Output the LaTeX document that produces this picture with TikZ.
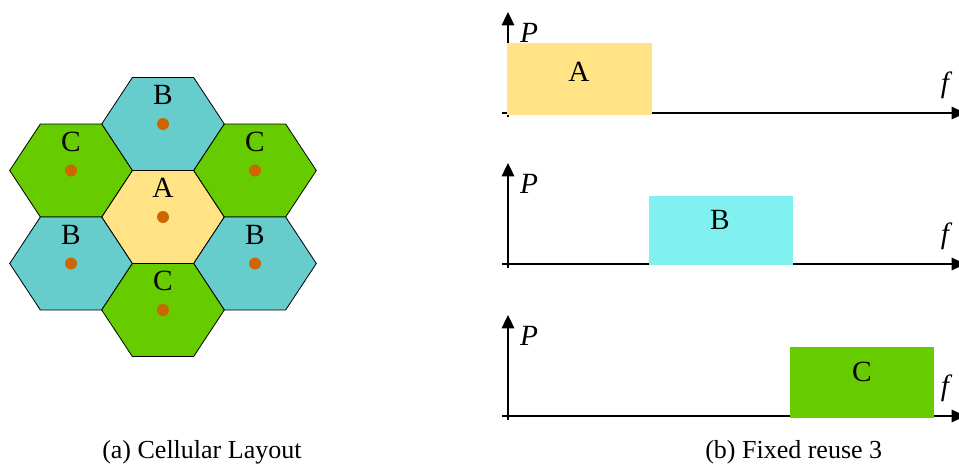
\documentclass[tikz,border=0pt]{standalone}
\usepackage{fontspec}
\setmainfont{Liberation Serif}
\usetikzlibrary{arrows.meta, positioning, calc}

\definecolor{cellA}{HTML}{FFE384}
\definecolor{cellB}{HTML}{66CCCC}
\definecolor{cellC}{HTML}{66CC00}
\definecolor{bandB}{HTML}{80F0F0}
\definecolor{site}{HTML}{CC6600}

\begin{document}
\begin{tikzpicture}[x=0.75pt, y=-0.75pt,
    hexcell/.style={draw=black, line width=0.6pt},
    cellname/.style={font=\fontsize{22}{24}\selectfont, inner sep=0pt},
    axis/.style={-{Triangle[length=10pt, width=9.5pt]}, line width=0.8pt},
    axislabel/.style={font=\fontsize{22}{24}\selectfont\itshape, inner sep=0pt},
    caption/.style={font=\fontsize{19.5}{22}\selectfont, inner sep=0pt}]
        \useasboundingbox (0,0) rectangle (959,464);

        % セル配置
        \foreach \cx/\cy/\col/\txt/\nm in {163/217/cellA/A/a, 163/124/cellB/B/b1,
            71/170.5/cellC/C/c1, 255/170.5/cellC/C/c2, 71/263.5/cellB/B/b2,
            255/263.5/cellB/B/b3, 163/310/cellC/C/c3}{
            \filldraw[hexcell, fill=\col, shift={(\cx,\cy)}]
                (61.3,0) -- (30.65,46.5) -- (-30.65,46.5) -- (-61.3,0)
                -- (-30.65,-46.5) -- (30.65,-46.5) -- cycle;
            \fill[site] (\cx,\cy) circle (4.5pt);
            \node[cellname] (cell-\nm) at (\cx,\cy-29) {\txt};
        }

        % 周波数軸
        \foreach \i/\y in {1/113, 2/264, 3/416}{
            \coordinate (org\i) at (508,\y+4);
            \coordinate (ptop\i) at (508,\y-101);
            \coordinate (fst\i) at (502,\y);
            \coordinate (fend\i) at (965,\y);
            \draw[axis] (org\i) -- (ptop\i);
            \draw[axis] (fst\i) -- (fend\i);
        }

        % 帯域
        \fill[cellA] (507,43) rectangle (652,114.5);
        \fill[bandB] (649,196) rectangle (793,265);
        \fill[cellC] (790,347) rectangle (934,417.5);
        \node[cellname] (band-a) at (579,72) {A};
        \node[cellname] (band-b) at (720,220) {B};
        \node[cellname] (band-c) at (862,372) {C};

        \foreach \i/\y in {1/113, 2/264, 3/416}{
            \node[axislabel] (P\i) at (529,\y-80) {P};
            \node[axislabel] (f\i) at (945,\y-28) {f};
        }

        % キャプション
        \node[caption, anchor=base west] (cap-a) at (102,458) {(a) Cellular Layout};
        \node[caption, anchor=base west] (cap-b) at (705,458) {(b) Fixed reuse 3};
    \end{tikzpicture}
\end{document}
